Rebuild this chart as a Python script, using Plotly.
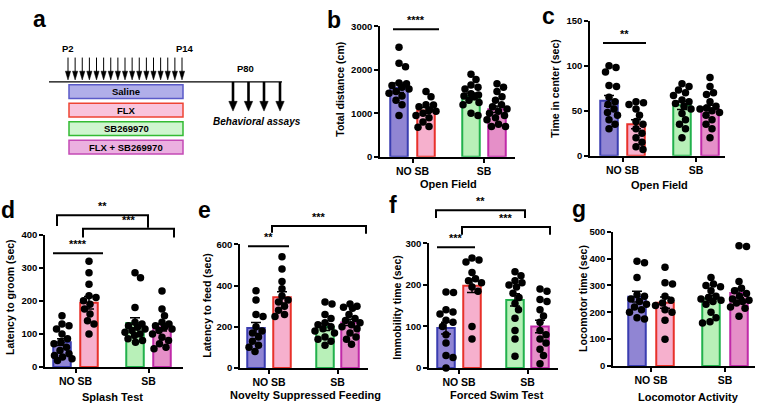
import plotly.graph_objects as go
import numpy as np

W, H = 758, 408
FONT = "Liberation Sans, Arial, sans-serif"

group_names = ["Saline", "FLX", "SB269970", "FLX + SB269970"]
x_labels = ["NO SB", "SB"]

# ---- b: Open Field, total distance (cm)
b_mean = [1590, 1067, 1395, 1097]
b_sem = [110, 65, 75, 75]
b_saline = [2520, 2150, 2070, 1700, 1680, 1640, 1600, 1560, 1500, 1460, 1400, 1300, 1200, 950]
b_flx = [1500, 1380, 1200, 1190, 1150, 1080, 1050, 1000, 950, 900, 800, 700, 680]
b_sb = [1900, 1780, 1650, 1600, 1560, 1450, 1420, 1400, 1380, 1300, 1250, 1200, 1000, 950]
b_flxsb = [1680, 1600, 1500, 1380, 1300, 1200, 1150, 1100, 1050, 1000, 950, 900, 850, 750, 700, 700]

# ---- c: Open Field, time in center (sec)
c_mean = [61, 35, 56, 52]
c_sem = [6, 5, 4.5, 4]
c_saline = [100, 98, 93, 78, 77, 65, 60, 57, 52, 48, 45, 40, 35, 30]
c_flx = [60, 59, 57, 52, 45, 38, 35, 30, 25, 20, 15, 10, 7]
c_sb = [80, 77, 73, 70, 67, 62, 60, 58, 55, 52, 47, 40, 35, 30, 20]
c_flxsb = [87, 77, 70, 68, 60, 55, 53, 52, 50, 48, 45, 40, 35, 30, 20]

# ---- d: Splash test, latency to groom (sec)
d_mean = [75, 194, 133, 120]
d_sem = [10, 19, 16, 11]
d_saline = [155, 130, 125, 115, 100, 85, 75, 70, 60, 50, 40, 35, 30, 25, 20]
d_flx = [320, 285, 250, 215, 210, 200, 190, 175, 160, 140, 130, 100]
d_sb = [285, 270, 180, 135, 130, 125, 120, 115, 110, 105, 100, 95, 85, 80, 75]
d_flxsb = [230, 175, 155, 135, 130, 125, 120, 115, 110, 100, 90, 80, 70, 60, 55]

# ---- e: Novelty suppressed feeding, latency to feed (sec)
e_mean = [194, 343, 199, 221]
e_sem = [27, 27, 17, 15]
e_saline = [375, 330, 260, 250, 200, 180, 170, 150, 130, 110, 100, 80]
e_flx = [540, 480, 420, 385, 350, 330, 320, 300, 280, 260, 250]
e_sb = [320, 310, 260, 240, 220, 210, 200, 190, 180, 170, 150, 140, 130, 110]
e_flxsb = [310, 300, 295, 290, 260, 240, 230, 220, 210, 200, 190, 170, 150, 140, 115]

# ---- f: Forced swim test, immobility time (sec)
f_mean = [96, 198, 164, 100]
f_sem = [14, 16, 15, 15]
f_saline = [183, 182, 140, 135, 130, 115, 110, 100, 80, 60, 30, 25, 0]
f_flx = [265, 260, 255, 230, 215, 210, 205, 195, 185, 100, 70]
f_sb = [232, 222, 210, 205, 200, 195, 180, 170, 155, 140, 120, 90, 70, 28]
f_flxsb = [190, 185, 165, 160, 140, 125, 110, 90, 80, 70, 60, 45, 30, 10]

# ---- g: Locomotor activity, locomotor time (sec)
g_mean = [258, 236, 251, 272]
g_sem = [20, 21, 13, 18]
g_saline = [390, 385, 330, 265, 260, 250, 240, 230, 220, 210, 200, 180, 175]
g_flx = [368, 310, 305, 260, 245, 235, 225, 210, 200, 170, 100]
g_sb = [330, 305, 300, 295, 280, 260, 255, 250, 245, 240, 230, 200, 180, 165, 160]
g_flxsb = [448, 445, 315, 290, 280, 270, 260, 250, 245, 240, 235, 220, 215, 185]

bar_fill = ["#9085d3", "#f6b0cd", "#b8f0b8", "#e58fc8"]
bar_line = ["#3a3db0", "#e8312a", "#22b14c", "#c02aa8"]
box_fill = ["#b0aee9", "#f9c4dc", "#cff5cf", "#ebb0e0"]
box_line = ["#5a5ac8", "#ee4433", "#33bb33", "#c44ab5"]


def xp(px):
    return px / W


def yp(py):
    return 1 - py / H


panels = [
    dict(letter="b", mean=b_mean, sem=b_sem, pts=[b_saline, b_flx, b_sb, b_flxsb],
         L=380, R=515, top=21, bottom=155, centers=[19, 46, 91, 117], ymax=3000, dtick=1000,
         ytitle="Total distance (cm)", ytx=340, yty=86, xtitle="Open Field", xtx=448, xty=183,
         lx=334, ly=14,
         sig=[("line", 13, 59, 24, "****")]),
    dict(letter="c", mean=c_mean, sem=c_sem, pts=[c_saline, c_flx, c_sb, c_flxsb],
         L=590, R=725, top=15, bottom=154, centers=[19, 46, 92, 120], ymax=150, dtick=50,
         ytitle="Time in center (sec)", ytx=555, yty=85, xtitle="Open Field", xtx=659, xty=184,
         lx=548, ly=10,
         sig=[("line", 13, 56, 38, "**")]),
    dict(letter="d", mean=d_mean, sem=d_sem, pts=[d_saline, d_flx, d_sb, d_flxsb],
         L=45, R=183, top=235, bottom=371, centers=[17, 44, 90, 117], ymax=400, dtick=100,
         ytitle="Latency to groom (sec)", ytx=10, yty=299, xtitle="Splash Test", xtx=112, xty=402,
         lx=8, ly=210,
         sig=[("line", 8, 58, 254, "****"),
              ("bracket", 12, 103, 215, 226, 228, "**"),
              ("bracket", 38, 129, 229, 238, 238, "***")]),
    dict(letter="e", mean=e_mean, sem=e_sem, pts=[e_saline, e_flx, e_sb, e_flxsb],
         L=240, R=368, top=245, bottom=372, centers=[16, 42, 85, 110], ymax=600, dtick=200,
         ytitle="Latency to feed (sec)", ytx=207, yty=308, xtitle="Novelty Suppressed Feeding",
         xtx=305, xty=400, lx=204, ly=210,
         sig=[("line", 8, 49, 247, "**"),
              ("bracket", 32, 126, 226, 233, 234, "***")]),
    dict(letter="f", mean=f_mean, sem=f_sem, pts=[f_saline, f_flx, f_sb, f_flxsb],
         L=429, R=558, top=244, bottom=372, centers=[17, 43, 86, 111], ymax=300, dtick=100,
         ytitle="Immobility time (sec)", ytx=397, yty=310, xtitle="Forced Swim Test",
         xtx=497, xty=400, lx=393, ly=205,
         sig=[("line", 8, 46, 248, "***"),
              ("bracket", 7, 96, 210, 218, 218, "**"),
              ("bracket", 33, 121, 227, 235, 235, "***")]),
    dict(letter="g", mean=g_mean, sem=g_sem, pts=[g_saline, g_flx, g_sb, g_flxsb],
         L=613, R=755, top=232, bottom=370, centers=[24, 52, 98, 126], ymax=500, dtick=100,
         ytitle="Locomotor time (sec)", ytx=583, yty=301, xtitle="Locomotor Activity",
         xtx=688, xty=402, lx=579, ly=209,
         sig=[]),
]


def swarm(vals, px_per_unit, d=7.2, maxoff=10.0):
    vals = np.asarray(vals, float)
    ys = vals * px_per_unit
    order = np.argsort(-ys)
    cands = [0.0]
    for k in np.arange(0.5, maxoff + 0.01, 0.5):
        cands += [k, -k]
    placed = []
    offs = np.zeros(len(vals))
    for i in order:
        y = ys[i]
        best = None
        for c in cands:
            if all((c - px) ** 2 + (y - py) ** 2 >= d * d for px, py in placed):
                best = c
                break
        if best is None:
            best = max(cands, key=lambda c: min((c - px) ** 2 + (y - py) ** 2 for px, py in placed))
        placed.append((best, y))
        offs[i] = best
    return offs


fig = go.Figure()
shapes = []
annos = []
layout = {}

bold = dict(family=FONT, color="black", weight="bold")

for i, p in enumerate(panels):
    n = i + 1
    xa = "x" if n == 1 else f"x{n}"
    ya = "y" if n == 1 else f"y{n}"
    xkey = "xaxis" if n == 1 else f"xaxis{n}"
    ykey = "yaxis" if n == 1 else f"yaxis{n}"
    width_rel = p["R"] - p["L"]
    ppu = (p["bottom"] - p["top"]) / p["ymax"]
    for g in range(4):
        fig.add_trace(go.Bar(
            x=[p["centers"][g]], y=[p["mean"][g]], width=[17.5],
            marker=dict(color=bar_fill[g], line=dict(color=bar_line[g], width=2)),
            error_y=dict(type="data", array=[p["sem"][g]], color="black", thickness=1.5, width=5),
            name=group_names[g], showlegend=False, xaxis=xa, yaxis=ya, hoverinfo="skip"))
    for g in range(4):
        vals = p["pts"][g]
        offs = swarm(vals, ppu)
        fig.add_trace(go.Scatter(
            x=[p["centers"][g] + o for o in offs], y=vals, mode="markers",
            marker=dict(color="black", size=7.5), cliponaxis=False,
            showlegend=False, xaxis=xa, yaxis=ya, hoverinfo="skip"))
    gc = [(p["centers"][0] + p["centers"][1]) / 2, (p["centers"][2] + p["centers"][3]) / 2]
    layout[xkey] = dict(domain=[xp(p["L"]), xp(p["R"])], range=[0, width_rel], anchor=ya,
                        showline=True, linecolor="black", linewidth=1.7, ticks="outside",
                        ticklen=4, tickwidth=1.7, tickcolor="black", showgrid=False,
                        zeroline=False, tickvals=gc, ticktext=x_labels,
                        tickfont=dict(size=10.5, **bold), fixedrange=True)
    layout[ykey] = dict(domain=[yp(p["bottom"]), yp(p["top"])], range=[0, p["ymax"]], anchor=xa,
                        showline=True, linecolor="black", linewidth=1.7, ticks="outside",
                        ticklen=4, tickwidth=1.7, tickcolor="black", showgrid=False,
                        zeroline=False, tick0=0, dtick=p["dtick"],
                        tickfont=dict(size=9.5, **bold), fixedrange=True)
    # titles
    annos.append(dict(text=p["ytitle"], x=xp(p["ytx"]), y=yp(p["yty"]), xref="paper", yref="paper",
                      showarrow=False, textangle=-90, font=dict(size=10.5, **bold),
                      xanchor="center", yanchor="middle"))
    annos.append(dict(text=p["xtitle"], x=xp(p["xtx"]), y=yp(p["xty"]), xref="paper", yref="paper",
                      showarrow=False, font=dict(size=11, **bold), xanchor="center", yanchor="middle"))
    annos.append(dict(text=p["letter"], x=xp(p["lx"]), y=yp(p["ly"]), xref="paper", yref="paper",
                      showarrow=False, font=dict(size=23, **bold), xanchor="center", yanchor="middle"))
    # significance marks
    for s in p["sig"]:
        if s[0] == "line":
            _, x1, x2, yy, txt = s
            shapes.append(dict(type="line", xref=xa, yref="paper", x0=x1, x1=x2, y0=yp(yy), y1=yp(yy),
                               line=dict(color="black", width=2)))
            annos.append(dict(text=txt, x=(x1 + x2) / 2, y=yp(yy - 1), xref=xa, yref="paper",
                              showarrow=False, font=dict(size=11, **bold), xanchor="center",
                              yanchor="bottom"))
        else:
            _, x1, x2, yt, yl, yr, txt = s
            path = (f"M {xp(p['L'] + x1)},{yp(yl)} L {xp(p['L'] + x1)},{yp(yt)} "
                    f"L {xp(p['L'] + x2)},{yp(yt)} L {xp(p['L'] + x2)},{yp(yr)}")
            shapes.append(dict(type="path", xref="paper", yref="paper", path=path,
                               line=dict(color="black", width=2)))
            annos.append(dict(text=txt, x=xp(p["L"] + (x1 + x2) / 2), y=yp(yt - 1), xref="paper",
                              yref="paper", showarrow=False, font=dict(size=11, **bold),
                              xanchor="center", yanchor="bottom"))

# ---- panel a: treatment timeline diagram
annos.append(dict(text="a", x=xp(39), y=yp(13), xref="paper", yref="paper", showarrow=False,
                  font=dict(size=23, **bold), xanchor="center", yanchor="middle"))
shapes.append(dict(type="line", xref="paper", yref="paper", x0=xp(49), x1=xp(282), y0=yp(78), y1=yp(78),
                   line=dict(color="black", width=1.2)))
n_inj = 17
for k in range(n_inj):
    x = 68 + k * (182 - 68) / (n_inj - 1)
    shapes.append(dict(type="line", xref="paper", yref="paper", x0=xp(x), x1=xp(x), y0=yp(53), y1=yp(70),
                       line=dict(color="black", width=1)))
    shapes.append(dict(type="path", xref="paper", yref="paper",
                       path=f"M {xp(x - 2.6)},{yp(67)} L {xp(x + 2.6)},{yp(67)} L {xp(x)},{yp(76)} Z",
                       fillcolor="black", line=dict(color="black", width=0.5)))
for x in [233, 248.5, 264, 280]:
    shapes.append(dict(type="line", xref="paper", yref="paper", x0=xp(x), x1=xp(x), y0=yp(78), y1=yp(100),
                       line=dict(color="black", width=2.6)))
    shapes.append(dict(type="path", xref="paper", yref="paper",
                       path=f"M {xp(x - 4.2)},{yp(98)} L {xp(x + 4.2)},{yp(98)} L {xp(x)},{yp(108)} Z",
                       fillcolor="black", line=dict(color="black", width=0.5)))
for txt, x, y in [("P2", 68, 44), ("P14", 185, 44), ("P80", 245, 64)]:
    annos.append(dict(text=txt, x=xp(x), y=yp(y), xref="paper", yref="paper", showarrow=False,
                      font=dict(size=9.5, **bold), xanchor="center", yanchor="middle"))
box_y = [(81, 95), (100, 114), (119, 133), (138, 152)]
for g in range(4):
    y0, y1 = box_y[g]
    shapes.append(dict(type="rect", xref="paper", yref="paper", x0=xp(69), x1=xp(183), y0=yp(y1), y1=yp(y0),
                       fillcolor=box_fill[g], line=dict(color=box_line[g], width=1.5)))
    annos.append(dict(text=group_names[g], x=xp(126), y=yp((y0 + y1) / 2), xref="paper", yref="paper",
                      showarrow=False, font=dict(size=9.5, **bold), xanchor="center", yanchor="middle"))
annos.append(dict(text="<i>Behavioral assays</i>", x=xp(257), y=yp(119), xref="paper", yref="paper",
                  showarrow=False, font=dict(size=10, **bold), xanchor="center", yanchor="middle"))

fig.update_layout(width=W, height=H, margin=dict(l=0, r=0, t=0, b=0), paper_bgcolor="white",
                  plot_bgcolor="white", barmode="overlay", showlegend=False,
                  shapes=shapes, annotations=annos, font=dict(family=FONT, color="black"), **layout)
fig.write_html("out.html", config={"displayModeBar": False},
               post_script="document.body.style.margin='0';document.body.style.padding='0';"
                           "document.documentElement.style.overflow='hidden';")
